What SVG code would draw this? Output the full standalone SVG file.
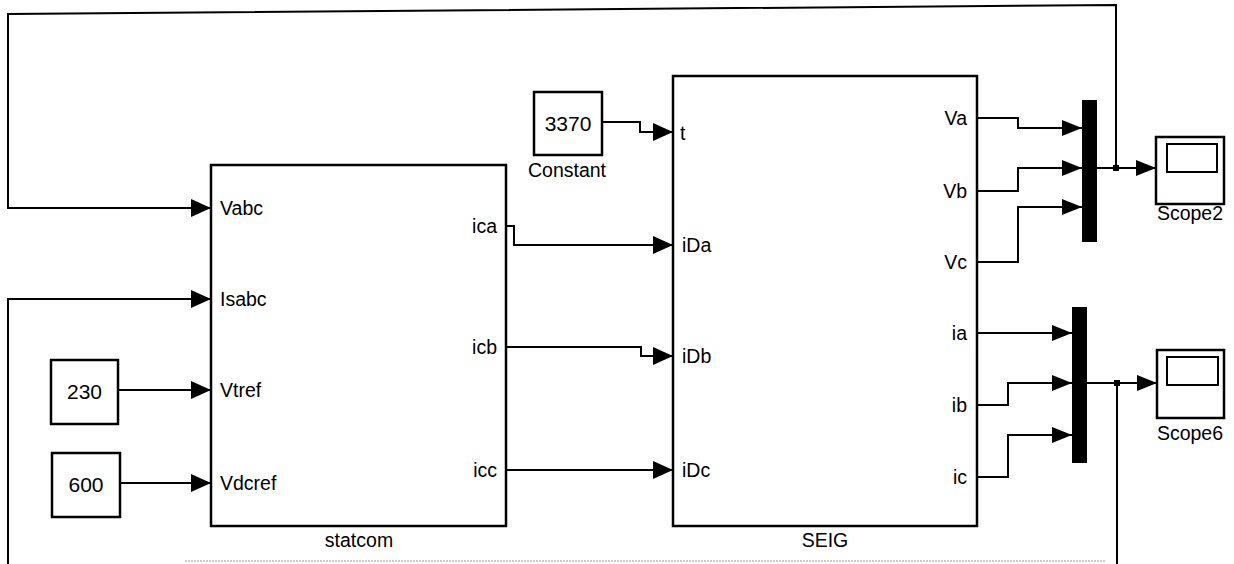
<svg xmlns="http://www.w3.org/2000/svg" width="1234" height="564" viewBox="0 0 1234 564">
<style>
.blk{fill:#fff;stroke:#000;stroke-width:2.5}
.ln{fill:none;stroke:#000;stroke-width:2}
.t{font-family:"Liberation Sans",Arial,sans-serif;font-size:19.5px;fill:#000}
.n{font-family:"Liberation Sans",Arial,sans-serif;font-size:21px;fill:#000}
.mux{fill:#000}
</style>
<defs>
<marker id="ah" markerUnits="userSpaceOnUse" markerWidth="20" markerHeight="18" refX="20" refY="9" orient="auto">
<path d="M0,0 L20,9 L0,18 Z" fill="#000"/>
</marker>
<marker id="am" markerUnits="userSpaceOnUse" markerWidth="20" markerHeight="16" refX="20" refY="8" orient="auto">
<path d="M0,0 L20,8 L0,16 Z" fill="#000"/>
</marker>
</defs>
<rect width="1234" height="564" fill="#fff"/>
<line x1="185" y1="561" x2="1105" y2="561" stroke="#999" stroke-width="1" stroke-dasharray="2 1"/>
<g id="connectors">
<path class="ln" d="M1116,168 V5 L8,14 V208 H211" stroke-width="2.5" marker-end="url(#ah)"/>
<path class="ln" d="M1117,383 V564"/>
<path class="ln" d="M8,564 V299 H211" marker-end="url(#ah)"/>
<path class="ln" d="M118,390 H211" marker-end="url(#ah)"/>
<path class="ln" d="M120,483 H211" marker-end="url(#ah)"/>
<path class="ln" d="M602,122 H640 V132 H673" marker-end="url(#ah)"/>
<path class="ln" d="M506,226 H514 V245 H673" marker-end="url(#ah)"/>
<path class="ln" d="M506,347 H641 V356 H673" marker-end="url(#ah)"/>
<path class="ln" d="M506,470 H673" marker-end="url(#ah)"/>
<path class="ln" d="M977,118 H1018 V128 H1082" marker-end="url(#am)"/>
<path class="ln" d="M977,191 H1018 V168 H1082" marker-end="url(#am)"/>
<path class="ln" d="M977,262 H1018 V207 H1082" marker-end="url(#am)"/>
<path class="ln" d="M1097,168 H1156" marker-end="url(#am)"/>
<path class="ln" d="M977,333 H1072" marker-end="url(#am)"/>
<path class="ln" d="M977,405 H1008 V383 H1072" marker-end="url(#am)"/>
<path class="ln" d="M977,477 H1008 V435 H1072" marker-end="url(#am)"/>
<path class="ln" d="M1087,383 H1157" marker-end="url(#am)"/>
<rect x="1113" y="165" width="6" height="6" fill="#000"/>
<rect x="1114" y="380" width="6" height="6" fill="#000"/>
</g>
<g id="statcom">
<rect class="blk" x="211" y="165" width="295" height="361"/>
<text class="t" x="220" y="215">Vabc</text>
<text class="t" x="220" y="306">Isabc</text>
<text class="t" x="220" y="397">Vtref</text>
<text class="t" x="220" y="490">Vdcref</text>
<text class="t" x="497" y="233" text-anchor="end">ica</text>
<text class="t" x="497" y="354" text-anchor="end">icb</text>
<text class="t" x="497" y="477" text-anchor="end">icc</text>
<text class="t" x="359" y="547" text-anchor="middle">statcom</text>
</g>
<g id="const230">
<rect class="blk" x="51" y="360" width="67" height="64"/>
<text class="n" x="84.5" y="399" text-anchor="middle">230</text>
</g>
<g id="const600">
<rect class="blk" x="52" y="453" width="68" height="64"/>
<text class="n" x="86" y="492" text-anchor="middle">600</text>
</g>
<g id="constant">
<rect class="blk" x="534" y="92" width="68" height="63"/>
<text class="n" x="568" y="131" text-anchor="middle">3370</text>
<text class="t" x="567" y="177" text-anchor="middle">Constant</text>
</g>
<g id="SEIG">
<rect class="blk" x="673" y="76" width="304" height="450"/>
<text class="t" x="680" y="140">t</text>
<text class="t" x="682" y="252">iDa</text>
<text class="t" x="682" y="363">iDb</text>
<text class="t" x="682" y="477">iDc</text>
<text class="t" x="967" y="125" text-anchor="end">Va</text>
<text class="t" x="967" y="198" text-anchor="end">Vb</text>
<text class="t" x="967" y="269" text-anchor="end">Vc</text>
<text class="t" x="967" y="340" text-anchor="end">ia</text>
<text class="t" x="967" y="412" text-anchor="end">ib</text>
<text class="t" x="967" y="484" text-anchor="end">ic</text>
<text class="t" x="825" y="547" text-anchor="middle">SEIG</text>
</g>
<g id="mux1">
<rect class="mux" x="1082" y="100" width="15" height="142"/>
</g>
<g id="mux2">
<rect class="mux" x="1072" y="307" width="15" height="156"/>
</g>
<g id="scope2">
<rect class="blk" x="1156" y="137" width="68" height="67"/>
<rect x="1167" y="144" width="50" height="28" fill="#fff" stroke="#000" stroke-width="2"/>
<text class="t" x="1190" y="220" text-anchor="middle">Scope2</text>
</g>
<g id="scope6">
<rect class="blk" x="1157" y="350" width="67" height="68"/>
<rect x="1167" y="357" width="51" height="28" fill="#fff" stroke="#000" stroke-width="2"/>
<text class="t" x="1190" y="440" text-anchor="middle">Scope6</text>
</g>
</svg>
